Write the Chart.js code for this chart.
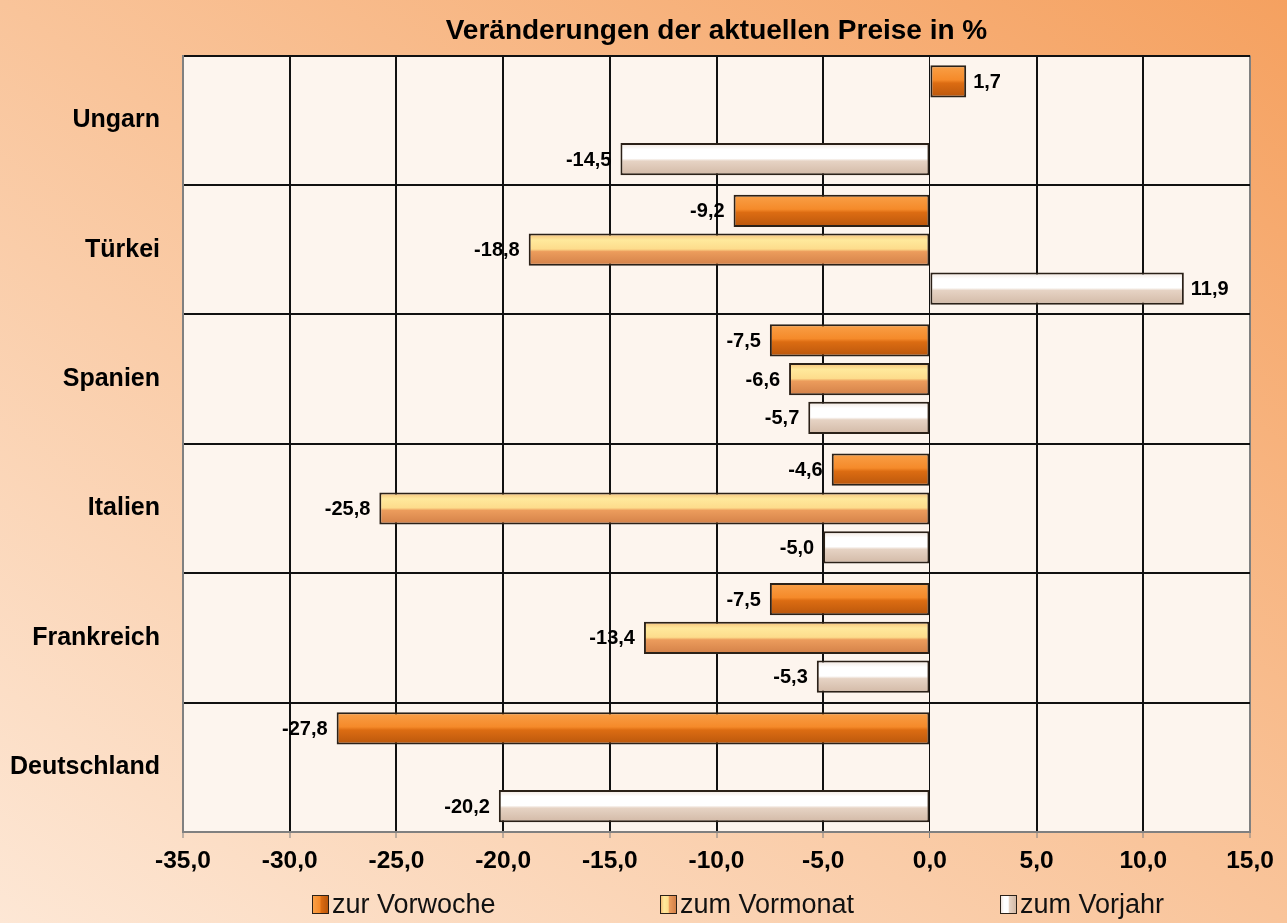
<!DOCTYPE html>
<html lang="de">
<head>
<meta charset="utf-8">
<title>Veränderungen der aktuellen Preise</title>
<script src="https://cdn.jsdelivr.net/npm/chart.js@4/dist/chart.umd.min.js"></script>
<style>
  html, body { margin: 0; padding: 0; }
  body {
    width: 1287px; height: 923px; overflow: hidden; position: relative;
    background: linear-gradient(to top right, #fde7d5 0%, #f9c49a 50%, #f5a160 100%);
    font-family: Arial, "Liberation Sans", sans-serif;
  }
  #wrap { position: absolute; left: 0; top: 0; width: 1287px; height: 923px; }
  #legend { position: absolute; left: 0; top: 889px; width: 1287px; height: 34px; }
  .item { position: absolute; top: 0; display: flex; align-items: center; font-size: 27px; color: #111; white-space: nowrap; }
  .box { width: 15px; height: 17px; border: 1px solid #2b2118; margin-right: 3px; }
</style>
</head>
<body>
<div id="wrap"><canvas id="priceChart"></canvas></div>
<div id="legend"></div>
<script>
const countries = ['Ungarn', 'Türkei', 'Spanien', 'Italien', 'Frankreich', 'Deutschland'];
const seriesNames = ['zur Vorwoche', 'zum Vormonat', 'zum Vorjahr'];
const vorwoche = [1.7, -9.2, -7.5, -4.6, -7.5, -27.8];
const vormonat = [null, -18.8, -6.6, -25.8, -13.4, null];
const vorjahr = [-14.5, 11.9, -5.7, -5.0, -5.3, -20.2];
const xTicks = [-35, -30, -25, -20, -15, -10, -5, 0, 5, 10, 15];

// gradient stops per series (top -> bottom of bar)
const barStops = [
    [[0, '#f9a048'], [0.45, '#f58a2a'], [0.55, '#dc6c12'], [1, '#b9560c']],
    [[0, '#f5be78'], [0.2, '#ffe99c'], [0.48, '#fddc8c'], [0.56, '#ec9c5c'], [1, '#d28048']],
    [[0, '#efe4dc'], [0.2, '#ffffff'], [0.48, '#ffffff'], [0.56, '#e6d3c4'], [1, '#d2b9a6']]
];
const fallback = ['#e0740f', '#f3b870', '#f4ebe4'];
const legendLeft = [312, 660, 1000];

const fmt = v => v.toFixed(1).replace('.', ',');

const makeFill = (i) => (c) => {
    const el = c.element;
    if (!el || !el.height) return fallback[i];
    const g = c.chart.ctx.createLinearGradient(0, el.y - el.height / 2, 0, el.y + el.height / 2);
    barStops[i].forEach(s => g.addColorStop(s[0], s[1]));
    return g;
};

const plotBg = {
    id: 'plotBg',
    beforeDraw(chart) {
        const a = chart.chartArea;
        const ctx = chart.ctx;
        ctx.save();
        ctx.fillStyle = '#fdf5ee';
        ctx.fillRect(a.left, a.top, a.right - a.left, a.bottom - a.top);
        ctx.restore();
    }
};

const valueLabels = {
    id: 'valueLabels',
    afterDatasetsDraw(chart) {
        const ctx = chart.ctx;
        ctx.save();
        ctx.font = 'bold 20px Arial, "Liberation Sans", sans-serif';
        ctx.fillStyle = '#000';
        ctx.textBaseline = 'middle';
        chart.data.datasets.forEach((ds, di) => {
            chart.getDatasetMeta(di).data.forEach((bar, i) => {
                const v = ds.data[i];
                if (v === null || v === undefined) return;
                if (v < 0) {
                    ctx.textAlign = 'right';
                    ctx.fillText(fmt(v), bar.x - 9, bar.y + 1);
                } else {
                    ctx.textAlign = 'left';
                    ctx.fillText(fmt(v), bar.x + 7, bar.y + 1);
                }
            });
        });
        ctx.restore();
    }
};

const ctx = document.getElementById('priceChart').getContext('2d');
const chart = new Chart(ctx, {
    type: 'bar',
    data: {
        labels: countries,
        datasets: [vorwoche, vormonat, vorjahr].map((d, i) => ({
            label: seriesNames[i],
            data: d,
            backgroundColor: makeFill(i),
            borderColor: '#2b2118',
            borderWidth: 2,
            borderSkipped: false,
            categoryPercentage: 0.9,
            barPercentage: 0.83
        }))
    },
    options: {
        indexAxis: 'y',
        responsive: true,
        maintainAspectRatio: false,
        animation: false,
        layout: { padding: { left: 0, right: 37, top: 0, bottom: 41 } },
        scales: {
            x: {
                type: 'linear',
                min: -35,
                max: 15,
                afterBuildTicks: (scale) => { scale.ticks = xTicks.map(v => ({ value: v })); },
                afterFit: (scale) => { scale.height = 50; },
                ticks: {
                    color: '#000',
                    padding: 9,
                    font: { family: 'Arial, "Liberation Sans", sans-serif', size: 24.5, weight: 'bold' },
                    callback: (v) => fmt(v)
                },
                grid: {
                    color: (c) => (c.tick && c.tick.value === 15 ? '#808080' : '#111'),
                    lineWidth: (c) => (c.tick && c.tick.value === 0 ? 1 : 2),
                    tickLength: 6,
                    tickColor: '#808080',
                    tickWidth: 1
                },
                border: { color: '#808080', width: 2 }
            },
            y: {
                afterFit: (scale) => { scale.width = 183; },
                ticks: {
                    color: '#000',
                    padding: 23,
                    font: { family: 'Arial, "Liberation Sans", sans-serif', size: 25, weight: 'bold' }
                },
                grid: {
                    color: '#111',
                    lineWidth: 2,
                    drawTicks: false
                },
                border: { color: '#808080', width: 2 }
            }
        },
        plugins: {
            legend: { display: false },
            tooltip: { enabled: false },
            title: {
                display: true,
                fullSize: false,
                text: 'Veränderungen der aktuellen Preise in %',
                color: '#000',
                font: { family: 'Arial, "Liberation Sans", sans-serif', size: 28, weight: 'bold' },
                padding: { top: 14, bottom: 8 }
            }
        }
    },
    plugins: [plotBg, valueLabels]
});
// second pass so the gradients can use the laid-out bar positions
chart.update();

// legend below the chart, built from the datasets
const legend = document.getElementById('legend');
chart.data.datasets.forEach((ds, i) => {
    const item = document.createElement('div');
    item.className = 'item';
    item.style.left = legendLeft[i] + 'px';
    const box = document.createElement('div');
    box.className = 'box';
    box.style.background = 'linear-gradient(to right, ' + barStops[i].map(s => s[1] + ' ' + (s[0] * 100) + '%').join(', ') + ')';
    const txt = document.createElement('span');
    txt.textContent = ds.label;
    item.appendChild(box);
    item.appendChild(txt);
    legend.appendChild(item);
});
</script>
</body>
</html>
